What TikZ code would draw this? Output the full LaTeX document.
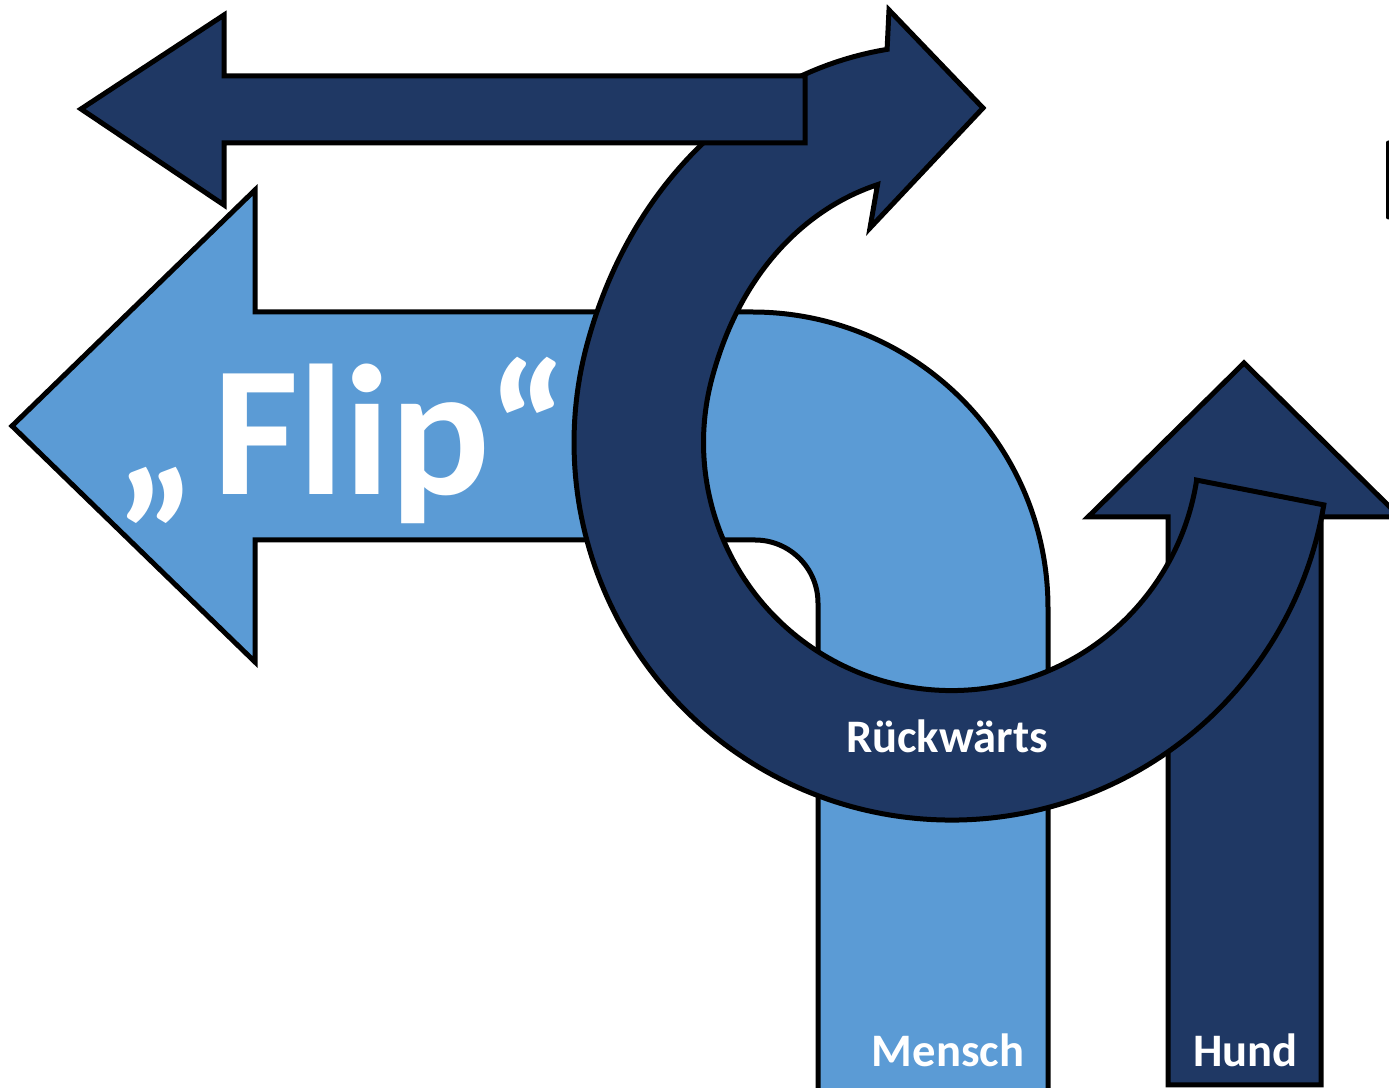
\documentclass[tikz,border=0pt]{standalone}
\usepackage{fontspec}
\newfontfamily\carlito{Carlito}
\definecolor{navy}{HTML}{1F3864}
\definecolor{skyblue}{HTML}{5B9BD5}
\begin{document}
\begin{tikzpicture}[x=0.5pt,y=0.5pt,
  shapeline/.style={draw=black, line width=2.5pt, line join=miter},
  darkfill/.style={shapeline, fill=navy},
  lightfill/.style={shapeline, fill=skyblue},
  lbl/.style={text=white, font=\carlito\bfseries\fontsize{23.3}{28}\selectfont, inner sep=0pt},
  declare function={vv(\x)=max(0,min(1,(-195-\x)/66));
                    dr(\x)=21*vv(\x)*vv(\x)*(3-2*vv(\x));}
]
\useasboundingbox (0,0) rectangle (1389,1088);
\clip (0,0) rectangle (1389,1088);

% light blue bent arrow (Mensch)
\draw[lightfill] (12,662) -- (255,898) -- (255,776) -- (752,776)
  arc[start angle=90,end angle=0,radius=296] -- (1048,-20) -- (818,-20) -- (818,485)
  arc[start angle=0,end angle=90,radius=63] -- (255,548) -- (255,426) -- cycle;

\node[anchor=base west, text=white, font=\carlito\bfseries\fontsize{93}{100}\selectfont, inner sep=0pt] (flip) at (115,593) {„\kern8.5pt Flip“};

% Hund arrow
\draw[darkfill] (1168,3) -- (1168,571) -- (1088,571) -- (1244,725) -- (1400,571) -- (1321,571) -- (1321,3) -- cycle;

% circular arrow
\draw[darkfill] ({951.5+248*cos(-8.7)},{645.4+248*sin(-8.7)})
  -- plot[domain=-9.5:-260.7,samples=200] ({951.5+(377.5+dr(\x))*cos(\x)},{645.4+(377.5+dr(\x))*sin(\x)})
  -- (889,1078) -- (983,980) -- (870,860)
  -- plot[domain=-254:-8.7,samples=200] ({951.5+(248+dr(\x))*cos(\x)},{645.4+(248+dr(\x))*sin(\x)})
  -- cycle;

% top left arrow
\draw[darkfill] (81,979) -- (224,1073) -- (224,1012) -- (805,1012) -- (805,945) -- (224,945) -- (224,883) -- cycle;

\node[lbl, anchor=base] (rueck) at (947,335) {Rückwärts};
\node[lbl, anchor=base] (mensch) at (948,21) {Mensch};
\node[lbl, anchor=base] (hund) at (1245.5,21) {Hund};

\draw[line width=2.5pt, line cap=round] (1388,945) -- (1388,871);
\end{tikzpicture}
\end{document}
